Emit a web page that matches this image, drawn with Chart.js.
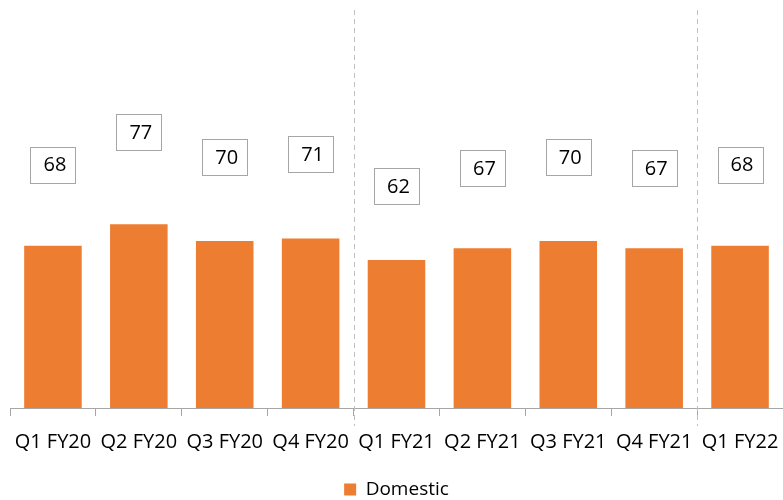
<!DOCTYPE html>
<html><head><meta charset="utf-8">
<script src="https://cdn.jsdelivr.net/npm/chart.js@4.4.0/dist/chart.umd.min.js"></script>
<style>html,body{margin:0;padding:0;background:#fff}#w{width:783px;height:500px}</style>
</head><body><div id="w"><canvas id="c"></canvas></div>
<script>
const categories = ["Q1 FY20","Q2 FY20","Q3 FY20","Q4 FY20","Q1 FY21","Q2 FY21","Q3 FY21","Q4 FY21","Q1 FY22"];
const domestic = [68,77,70,71,62,67,70,67,68];
const seriesName = "Domestic";
const dividerAfter = [3,7]; // dashed separators after these category indices

const FONT = "'Open Sans', 'Noto Sans', sans-serif";

const labelBoxes = {
  id:'labelBoxes',
  afterDatasetsDraw(chart){
    const ctx = chart.ctx, x = chart.scales.x, y = chart.scales.y;
    ctx.save();
    ctx.font = "20px " + FONT;
    ctx.textAlign = 'center'; ctx.textBaseline = 'middle';
    domestic.forEach((v,i)=>{
      const cx = x.getPixelForValue(i);
      const cy = y.getPixelForValue(v*1.5);
      const w = 45, h = 36;
      ctx.fillStyle = '#fff';
      ctx.fillRect(Math.round(cx-w/2)+0.5, Math.round(cy-h/2)+0.5, w, h);
      ctx.strokeStyle = '#A6A6A6'; ctx.lineWidth = 1;
      ctx.strokeRect(Math.round(cx-w/2)+0.5, Math.round(cy-h/2)+0.5, w, h);
      ctx.fillStyle = '#000';
      ctx.fillText(String(v), cx+2, cy+1);
    });
    ctx.strokeStyle = '#BFBFBF'; ctx.lineWidth = 1; ctx.setLineDash([5,4]);
    dividerAfter.forEach(i=>{
      const px = Math.round((x.getPixelForValue(i)+x.getPixelForValue(i+1))/2)+0.5;
      ctx.beginPath(); ctx.moveTo(px, 10); ctx.lineTo(px, chart.chartArea.bottom+18); ctx.stroke();
    });
    ctx.restore();
  }
};

new Chart(document.getElementById('c'), {
  type:'bar',
  data:{ labels:categories, datasets:[{label:seriesName, data:domestic, backgroundColor:'#ED7D31', categoryPercentage:0.67, barPercentage:1}]},
  options:{
    responsive:true, maintainAspectRatio:false, animation:false,
    layout:{padding:{left:10,right:0,top:0,bottom:-9}},
    plugins:{
      legend:{position:'bottom', labels:{font:{family:FONT,size:19}, color:'#000', boxWidth:12, boxHeight:12, padding:12}},
      tooltip:{enabled:false}
    },
    scales:{
      x:{
        afterFit(s){ s.paddingLeft = 0; s.paddingRight = 0; },
        grid:{display:true, drawOnChartArea:false, drawTicks:true, tickLength:8, color:'#A6A6A6', offset:true},
        border:{display:true, color:'#A6A6A6', width:1},
        ticks:{font:{family:FONT,size:20}, color:'#000', padding:14, maxRotation:0, autoSkip:false}
      },
      y:{display:false, min:0, max:171}
    }
  },
  plugins:[labelBoxes]
});
</script></body></html>
